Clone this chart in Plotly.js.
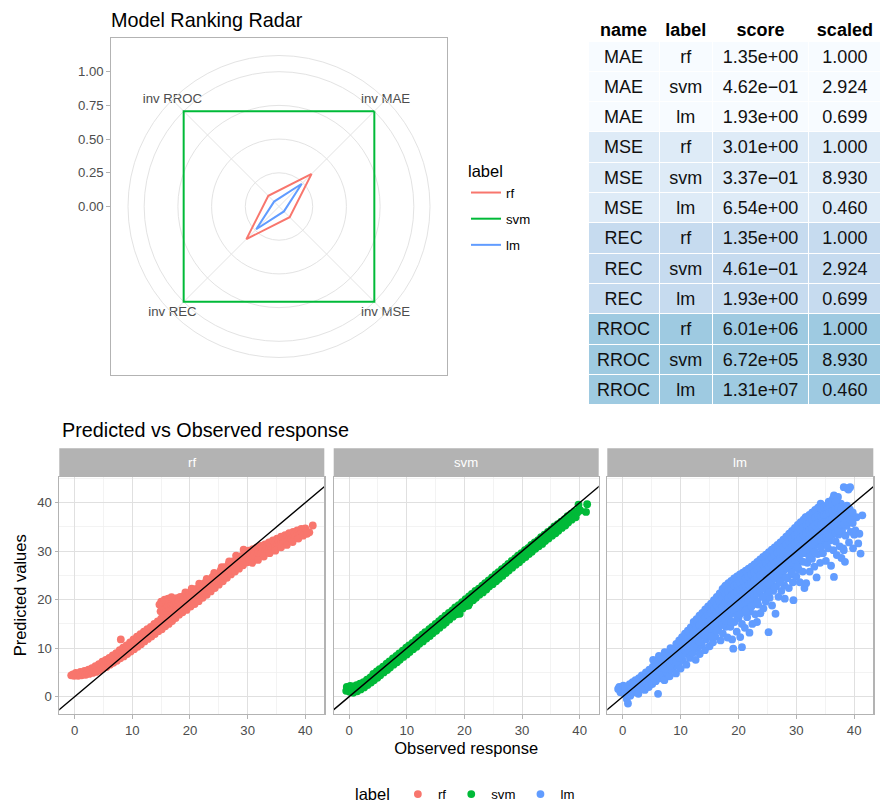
<!DOCTYPE html>
<html>
<head>
<meta charset="utf-8">
<script src="https://cdn.plot.ly/plotly-3.0.1.min.js"></script>
<style>html,body{margin:0;padding:0;background:#fff}#chart{width:881px;height:802px}</style>
</head>
<body>
<div id="chart"></div>
<script>
// ---------- data ----------
const modelLabels = ['rf', 'svm', 'lm'];
const modelColors = ['#F8766D', '#00BA38', '#619CFF'];

// radar (inverse scaled metrics)
const radarAxes = ['inv MAE', 'inv MSE', 'inv REC', 'inv RROC'];
const radarRf  = [0.342, 0.112, 0.342, 0.112];
const radarSvm = [1.000, 1.000, 1.000, 1.000];
const radarLm  = [0.239, 0.0515, 0.239, 0.0515];
const radarTicks = [0, 0.25, 0.5, 0.75, 1];
const radarTickText = ['0.00', '0.25', '0.50', '0.75', '1.00'];

// table
const tblHeader = ['name', 'label', 'score', 'scaled'];
const tblName   = ['MAE','MAE','MAE','MSE','MSE','MSE','REC','REC','REC','RROC','RROC','RROC'];
const tblLabel  = ['rf','svm','lm','rf','svm','lm','rf','svm','lm','rf','svm','lm'];
const tblScore  = ['1.35e+00','4.62e\u221201','1.93e+00','3.01e+00','3.37e\u221201','6.54e+00',
                   '1.35e+00','4.61e\u221201','1.93e+00','6.01e+06','6.72e+05','1.31e+07'];
const tblScaled = ['1.000','2.924','0.699','1.000','8.930','0.460','1.000','2.924','0.699','1.000','8.930','0.460'];
const metricFill = {MAE: '#F7FBFF', MSE: '#DEEBF7', REC: '#C6DBEF', RROC: '#9ECAE1'};

// predicted vs observed: [observed, predicted]
const rfPoints = [
[-0.6,4.4],[-0.3,4.6],[-0.1,4.3],[0.2,4.9],[0.3,4.5],[0.6,4.3],[0.8,4.7],[1.0,5.1],[1.2,4.4],[1.5,4.8],
[1.7,5.3],[1.9,4.5],[2.1,5.0],[2.4,5.6],[2.5,4.7],[2.8,5.2],[3.0,5.9],[3.1,4.9],[3.4,5.5],[3.6,6.3],
[3.7,5.1],[4.0,5.8],[4.2,6.7],[4.3,5.4],[4.6,6.2],[4.8,7.2],[4.9,5.8],[5.2,6.6],[5.4,7.6],[5.5,6.1],
[5.8,7.0],[6.0,8.0],[6.1,6.6],[6.4,7.5],[6.6,8.5],[6.7,7.0],[7.0,8.0],[7.2,9.0],[7.3,7.4],[7.6,8.5],
[7.8,9.6],[7.9,7.9],[8.0,11.8],[8.2,9.0],[8.4,10.1],[8.5,8.3],[8.8,9.5],[9.0,10.6],[9.1,8.8],[9.4,10.0],
[9.6,11.2],[9.7,9.3],[10.0,10.6],[10.2,11.8],[10.3,9.8],[10.6,11.1],[10.8,12.4],[10.9,10.3],[11.2,11.6],[11.4,12.9],
[11.5,10.8],[11.8,12.1],[12.0,13.4],[12.1,11.4],[12.4,12.7],[12.6,13.9],[12.7,11.9],[13.0,13.2],[13.2,14.4],[13.3,12.4],
[13.6,13.7],[13.8,15.0],[13.9,12.9],[14.2,14.2],[14.4,15.5],[14.5,13.5],[14.7,19.0],[14.8,14.7],[15.0,16.1],[15.1,13.9],
[15.3,19.4],[15.4,15.2],[15.6,16.7],[15.7,14.5],[15.9,19.6],[16.0,15.7],[16.2,17.2],[16.3,15.0],[16.5,19.8],[16.6,16.2],
[16.8,17.8],[16.9,15.6],[17.1,20.1],[17.2,16.8],[17.4,18.4],[17.5,16.2],[17.7,20.3],[17.8,17.4],[18.0,19.0],[18.1,16.9],
[18.3,20.6],[18.4,18.0],[18.6,19.5],[18.7,17.4],[19.0,20.8],[19.1,18.5],[19.3,20.0],[19.4,17.9],[19.7,21.3],[19.8,19.0],
[14.9,17.6],[15.2,18.2],[15.5,17.8],[15.8,18.4],[16.1,18.8],[16.4,18.4],[16.7,19.0],[17.0,19.2],[17.3,19.4],[17.6,19.6],
[17.9,19.9],[18.2,19.9],[18.5,20.3],[18.8,20.0],[19.2,21.5],[19.5,20.6],[19.9,21.0],[15.0,19.6],[15.6,20.0],[16.2,20.2],
[16.8,20.5],
[20.0,20.4],[20.1,18.6],[20.4,21.7],[20.5,19.5],[20.7,20.9],[20.8,19.1],[21.1,22.2],[21.2,20.1],[21.4,21.4],[21.5,19.7],
[21.8,22.8],[21.9,20.7],[22.1,22.0],[22.2,20.4],[22.5,23.4],[22.6,21.3],[22.8,22.7],[22.9,21.0],[23.2,24.0],[23.3,22.0],
[23.5,23.3],[23.6,21.7],[23.9,24.7],[24.0,22.7],[24.2,24.0],[24.3,22.4],[24.6,25.3],[24.7,23.4],[24.9,24.6],[25.0,23.1],
[25.3,26.0],[25.4,24.0],[25.6,25.3],[25.7,23.8],[26.0,26.7],[26.1,24.7],[26.3,25.9],[26.4,24.5],[26.7,27.3],[26.8,25.4],
[27.0,26.6],[27.1,25.2],[27.4,27.9],[27.5,26.1],[27.7,27.2],[27.8,25.8],[28.1,28.5],[28.2,26.7],[28.4,27.9],[28.5,26.4],
[28.8,29.0],[28.9,27.3],[29.1,28.5],[29.2,27.1],[29.5,29.6],[29.6,27.9],[29.8,29.0],[29.9,27.7],[30.2,30.1],[30.3,28.4],
[20.3,22.3],[21.6,23.3],[22.9,24.3],[24.2,25.5],[25.5,26.7],[26.8,27.9],[28.0,29.1],[29.3,30.3],
[30.5,29.5],[30.6,28.2],[30.9,30.4],[31.0,28.7],[31.2,29.7],[31.3,28.5],[31.6,30.8],[31.7,29.2],[31.9,30.1],[32.0,29.0],
[32.3,31.1],[32.4,29.7],[32.6,30.5],[32.7,29.4],[33.0,31.4],[33.1,30.1],[33.3,30.9],[33.4,29.8],[33.7,31.8],[33.8,30.5],
[34.0,31.3],[34.1,30.3],[34.4,32.2],[34.5,31.0],[34.7,31.7],[34.8,30.8],[35.1,32.6],[35.2,31.4],[35.4,32.1],[35.5,31.2],
[35.8,33.0],[35.9,31.9],[36.1,32.5],[36.2,31.7],[36.5,33.3],[36.6,32.3],[36.8,32.9],[36.9,32.1],[37.2,33.7],[37.3,32.8],
[37.5,33.3],[37.6,32.6],[37.9,34.0],[38.0,33.2],[38.2,33.7],[38.3,32.9],[38.6,34.3],[38.7,33.6],[38.9,34.1],[39.0,33.4],
[39.3,34.6],[39.4,34.0],[39.7,34.4],[40.0,34.7],[40.2,34.1],[40.7,33.9],[41.3,35.3],
[30.8,27.6],[31.8,28.2],[32.8,28.9],[33.8,29.6],[34.8,30.1],[35.8,30.8],[36.8,31.3],[37.8,31.9],[38.8,32.6],[39.6,33.2],
[40.3,33.6]
];

const svmPoints = [
[-0.5,1.2],[-0.4,2.0],[-0.2,1.6],[0.1,1.0],[0.2,2.2],[0.5,1.5],[0.7,0.8],[0.8,2.1],[1.0,1.4],[1.3,2.4],
[1.4,1.1],[1.6,1.8],[1.9,2.7],[2.0,1.5],[2.2,2.2],[2.5,3.0],[2.6,1.9],[2.8,2.6],[3.1,3.5],[3.2,2.4],
[3.4,3.0],[3.7,4.0],[3.8,2.9],[4.0,3.6],[4.2,4.7],[4.3,3.4],[4.6,4.1],[4.8,5.2],[4.9,3.9],[5.1,4.7],
[5.3,5.7],[5.4,4.4],[5.7,5.2],[5.9,6.2],[6.0,5.0],[6.2,5.8],[6.5,6.8],[6.6,5.5],[6.8,6.3],[7.0,7.3],
[7.1,6.0],[7.4,6.8],[7.6,7.9],[7.7,6.6],[7.9,7.3],[8.2,8.4],[8.3,7.1],[8.5,7.9],[8.7,8.9],[8.8,7.6],
[9.1,8.4],[9.3,9.5],[9.4,8.2],[9.6,8.9],[9.9,10.1],[10.0,8.7],[10.2,9.5],[10.4,10.6],[10.5,9.2],[10.8,10.0],
[11.0,11.1],[11.1,9.8],[11.3,10.6],[11.6,11.7],[11.7,10.3],[11.9,11.1],[12.1,12.2],[12.2,10.9],[12.5,11.6],[12.7,12.8],
[12.8,11.4],[13.0,12.2],[13.2,13.3],[13.4,12.0],[13.6,12.7],[13.9,13.9],[14.0,12.5],[14.2,13.3],[14.4,14.4],[14.5,13.1],
[14.8,13.8],[15.0,15.0],[15.1,13.6],[15.3,14.4],[15.6,15.6],[15.7,14.2],[15.9,14.9],[16.1,16.1],[16.3,14.8],[16.5,15.5],
[16.7,16.7],[16.8,15.3],[17.1,16.1],[17.3,17.3],[17.4,15.9],[17.6,16.6],[17.9,17.8],[18.0,16.5],[18.2,17.2],[18.4,18.4],
[18.6,17.0],[18.8,17.8],[19.0,18.9],[19.2,17.1],[19.4,18.3],[19.6,19.5],[19.7,18.2],[20.0,18.9],[20.2,20.1],[20.3,18.7],
[20.7,18.8],[20.5,19.5],[20.8,20.7],[20.9,19.3],[21.1,20.0],[21.3,21.2],[21.5,19.9],[21.7,20.6],[21.9,21.8],[22.0,20.4],
[22.3,21.2],[22.5,22.3],[22.6,21.0],[22.8,21.7],[23.1,22.9],[23.2,21.5],[23.4,22.3],[23.6,23.4],[23.8,22.1],[24.0,22.9],
[24.2,24.0],[24.3,22.7],[24.6,23.4],[24.8,24.6],[24.9,23.2],[25.1,24.0],[25.4,25.2],[25.5,23.8],[25.7,24.6],[25.9,25.7],
[26.0,24.3],[26.3,25.1],[26.5,26.3],[26.6,24.9],[26.8,25.7],[27.1,26.8],[27.2,25.5],[27.4,26.3],[27.6,27.4],[27.7,26.0],
[28.0,26.8],[28.2,28.0],[28.3,26.6],[28.5,27.4],[28.8,28.5],[28.9,27.2],[29.1,27.9],[29.3,29.1],[29.5,27.7],[29.7,28.5],
[29.9,29.6],[30.0,28.3],[30.3,29.1],[30.5,30.2],[30.6,28.8],[30.8,29.6],[31.1,30.7],[31.2,29.4],[31.4,30.2],[31.6,31.3],
[31.7,29.9],[32.0,30.7],[32.2,31.8],[32.3,30.5],[32.5,31.3],[32.8,32.3],[32.9,31.0],[33.1,31.8],[33.3,32.9],[33.5,31.5],
[33.7,32.4],[33.9,33.4],[34.0,32.1],[34.3,32.9],[34.5,34.0],[34.6,32.6],[34.8,33.4],[35.1,34.5],[35.2,33.2],[35.4,34.0],
[35.6,35.1],[35.8,33.7],[36.0,34.5],[36.2,35.6],[36.3,34.2],[36.6,35.0],[36.8,36.1],[36.9,34.8],[37.1,35.6],[37.4,36.6],
[37.5,35.3],[37.7,36.1],[37.9,37.2],[38.0,35.9],[38.3,36.7],[38.5,37.7],[38.6,36.5],[38.9,37.3],[39.1,38.2],[39.3,37.0],
[39.6,38.0],[39.8,39.6],[40.1,38.4],[41.1,38.1],[41.3,39.7]
];

const lmPoints = [
[-0.8,1.6],[-0.6,2.0],[-0.4,0.9],[-0.1,1.5],[0.1,2.3],[0.3,0.6],[0.5,1.8],[0.7,-0.5],[0.9,-1.4],[1.0,1.0],
[1.2,2.6],[1.3,0.2],[1.5,1.8],[1.7,3.0],[1.8,0.9],[2.0,2.2],[2.2,3.4],[2.3,1.2],[2.5,2.6],[2.7,0.6],
[2.8,3.8],[3.0,1.9],[3.1,3.0],[3.3,4.4],[3.5,2.2],[3.6,3.4],[3.8,1.4],[4.0,5.0],[4.1,3.0],[4.3,4.1],
[4.5,2.0],[4.6,5.6],[4.8,3.6],[4.9,4.8],[5.1,2.6],[5.2,6.2],[5.4,4.2],[5.5,5.4],[5.7,3.2],[5.8,6.8],
[6.0,4.8],[6.1,0.6],[6.2,6.0],[6.4,3.8],[6.5,7.4],[6.6,5.4],[6.8,6.6],[6.9,4.4],[7.1,8.0],[7.2,3.4],
[7.3,6.0],[7.5,7.2],[7.6,5.0],[7.8,8.6],[7.9,6.6],[8.1,4.2],[8.2,7.8],[8.3,5.6],[8.5,9.2],[8.6,7.2],
[8.8,8.4],[8.9,6.2],[9.1,9.8],[9.2,4.8],[9.3,7.8],[9.5,9.0],[9.6,6.8],[9.8,10.6],[9.9,8.4],[10.0,5.8],
[10.2,9.6],[10.3,11.4],[10.4,7.4],[10.6,12.2],[10.7,8.8],[10.8,10.4],[11.0,6.6],[11.1,12.8],[11.2,11.2],[11.3,9.4],
[11.5,13.4],[11.6,8.0],[11.7,10.4],[11.9,12.0],[12.0,14.0],[12.1,9.0],[12.3,11.0],[12.4,15.0],[12.5,12.8],[12.6,7.6],
[12.8,13.8],[12.9,10.0],[13.0,11.8],[13.2,15.6],[13.3,8.8],[13.4,14.4],[13.5,12.6],[13.7,10.6],[13.8,16.2],[14.0,13.4],
[14.1,15.2],[14.2,9.6],[14.4,11.8],[14.5,17.0],[14.6,14.2],[14.8,12.6],[14.9,15.8],[15.0,10.4],
[15.2,17.8],[15.3,13.4],[15.4,16.4],[15.6,11.2],[15.7,14.8],[15.8,18.6],[16.0,12.4],[16.1,17.2],[16.2,15.6],[16.4,19.4],
[16.5,13.8],[16.6,16.6],[16.8,20.2],[16.9,11.6],[17.0,18.0],[17.1,15.0],[17.2,21.6],[17.3,13.0],[17.4,19.4],[17.5,16.4],
[17.6,22.6],[17.7,20.6],[17.8,14.4],[17.9,17.8],[18.0,21.8],[18.1,12.2],[18.2,19.0],[18.3,23.0],[18.4,16.0],[18.5,20.4],
[18.6,14.4],[18.7,22.2],[18.8,17.6],[18.9,11.8],[19.0,23.6],[19.1,9.9],[19.2,19.6],[19.3,15.4],[19.4,21.4],[19.5,24.0],
[19.6,17.6],[19.7,13.4],[19.8,20.4],[19.9,22.6],[20.0,16.2],
[20.1,24.6],[20.2,18.8],[20.3,12.3],[20.4,21.6],[20.5,23.4],[20.6,10.2],[20.6,15.0],[20.7,17.4],[20.8,20.0],[20.9,25.0],
[21.0,22.6],[21.1,14.2],[21.2,18.6],[21.3,24.0],[21.4,21.0],[21.5,16.4],[21.6,25.6],[21.7,19.6],[21.8,22.8],[21.9,13.2],
[22.0,17.6],[22.1,24.6],[22.2,21.2],[22.3,26.2],[22.4,15.0],[22.5,19.0],[22.6,23.2],[22.7,25.4],[22.8,20.4],[22.9,17.0],
[23.0,26.8],[23.1,22.0],[23.2,15.4],[23.3,24.2],[23.4,19.0],[23.5,27.2],[23.6,21.4],[23.7,25.6],[23.8,17.2],[23.9,23.2],
[24.0,27.8],[24.1,20.6],[24.2,24.8],[24.3,18.2],[24.4,22.6],[24.5,28.4],[24.6,26.0],[24.7,19.6],[24.8,23.8],[24.9,27.2],
[25.0,21.6],
[25.1,29.0],[25.2,13.3],[25.3,25.0],[25.4,20.4],[25.5,27.6],[25.6,23.0],[25.7,29.6],[25.8,18.8],[25.9,26.2],[26.0,21.8],
[26.1,28.4],[26.2,24.4],[26.3,30.0],[26.4,17.1],[26.5,22.8],[26.6,27.2],[26.7,25.4],[26.8,30.6],[26.9,20.6],[27.0,28.8],
[27.1,23.8],[27.2,26.4],[27.3,31.0],[27.4,21.8],[27.5,29.4],[27.6,25.0],[27.7,27.8],[27.8,31.6],[27.9,23.0],[28.0,20.2],
[28.1,29.6],[28.2,26.4],[28.3,32.2],[28.4,24.4],[28.5,28.2],[28.6,30.8],[28.7,22.4],[28.8,33.0],[28.9,26.6],[29.0,29.4],
[29.1,25.2],[29.2,33.8],[29.3,31.6],[29.4,23.6],[29.5,19.9],[29.6,28.2],[29.7,34.4],[29.8,26.8],[29.9,30.8],[30.0,24.8],
[30.1,32.8],[30.2,29.0],[30.3,35.0],[30.4,26.2],[30.5,31.6],[30.6,23.6],[30.7,33.8],[30.8,28.0],[30.9,30.4],[31.0,35.6],
[31.1,25.8],[31.2,32.6],[31.3,29.6],[31.4,22.4],[31.5,34.6],[31.6,37.0],[31.7,23.4],[31.8,31.0],[31.9,27.6],[32.0,35.8],
[32.1,33.2],[32.2,29.8],[32.3,25.8],[32.4,36.8],[32.5,31.8],[32.6,34.4],[32.7,28.4],[32.8,37.6],[32.9,33.0],[33.0,30.6],
[33.1,26.8],[33.2,35.4],[33.3,38.4],[33.4,32.0],[33.5,24.6],[33.6,36.6],[33.7,29.4],[33.8,34.2],[33.9,38.8],[34.0,31.6],
[34.1,27.6],[34.2,39.8],[34.3,35.6],[34.4,33.0],[34.5,37.6],[34.6,29.6],[34.7,38.1],[34.8,34.6],[34.9,31.8],[35.0,36.6],
[35.1,28.0],[35.2,39.4],[35.3,33.6],[35.4,37.8],[35.5,30.6],[35.6,40.2],[35.7,35.4],[35.8,32.2],[35.9,38.6],[36.0,27.0],
[36.1,36.6],[36.2,33.8],[36.3,40.8],[36.4,30.2],[36.5,41.5],[36.5,24.7],[36.6,37.4],[36.7,35.0],[36.8,32.0],[36.9,39.6],
[37.0,29.2],[37.1,36.2],[37.2,41.2],[37.3,33.4],[37.4,38.4],[37.5,31.0],[37.6,35.6],[37.7,39.8],[37.8,28.6],[37.9,34.2],
[38.0,37.0],[38.1,30.6],[38.2,43.2],[38.2,30.2],[38.3,36.2],[38.4,27.8],[38.5,33.2],[38.6,38.4],[38.7,35.2],[38.8,43.0],
[39.0,42.7],[39.1,31.8],[39.2,37.4],[39.3,43.2],[39.4,34.0],[39.6,36.2],[39.8,30.6],[40.0,33.4],[40.2,34.3],[40.4,37.0],
[40.7,31.6],[40.9,33.6],[41.1,29.5],[41.4,37.4],
// dense core of the cloud
[5.25,7.6],[5.25,5.9],[5.25,4.0],[5.75,6.3],[5.75,4.6],[6.25,8.4],[6.25,6.9],[6.25,5.2],[6.75,7.8],[6.75,5.9],
[7.25,9.2],[7.25,7.5],[7.25,5.8],[7.75,8.4],[7.75,6.6],[8.25,10.0],[8.25,8.3],[8.25,6.5],[8.75,9.3],[8.75,7.4],
[9.25,10.9],[9.25,9.0],[9.25,7.2],[9.75,11.6],[9.75,9.5],[9.75,8.0],[10.25,12.3],[10.25,10.5],[10.25,8.6],
[10.75,13.0],[10.75,11.3],[10.75,9.6],[11.25,13.6],[11.25,12.0],[11.25,10.0],[11.75,14.3],[11.75,12.6],[11.75,10.9],
[12.25,15.4],[12.25,13.6],[12.25,11.8],[12.25,10.3],[12.75,16.0],[12.75,14.4],[12.75,12.4],
[13.25,16.7],[13.25,14.8],[13.25,13.2],[13.25,11.4],[13.75,17.3],[13.75,15.6],[13.75,13.9],
[14.25,18.0],[14.25,16.3],[14.25,14.6],[14.25,12.8],[14.75,18.6],[14.75,16.9],[14.75,15.3],[14.75,13.4],
[15.25,19.2],[15.25,17.4],[15.25,15.8],[15.25,14.0],[15.25,12.4],[15.75,19.9],[15.75,18.1],[15.75,16.6],[15.75,14.7],
[16.25,20.6],[16.25,18.8],[16.25,17.2],[16.25,15.3],[16.25,13.6],[16.75,21.3],[16.75,19.6],[16.75,17.9],[16.75,16.0],
[17.25,22.2],[17.25,20.4],[17.25,18.6],[17.25,16.8],[17.25,14.8],[17.75,22.9],[17.75,21.2],[17.75,19.4],[17.75,17.6],[17.75,15.6],
[18.25,23.4],[18.25,21.8],[18.25,20.2],[18.25,18.4],[18.25,16.4],[18.75,23.9],[18.75,22.4],[18.75,20.8],[18.75,19.0],[18.75,17.2],[18.75,15.4],
[19.25,24.4],[19.25,22.8],[19.25,21.2],[19.25,19.4],[19.25,17.8],[19.75,24.8],[19.75,23.2],[19.75,21.6],[19.75,20.0],[19.75,18.4],[19.75,16.6],
[20.25,25.2],[20.25,23.6],[20.25,22.0],[20.25,20.4],[20.25,18.8],[20.25,17.0],[20.75,25.6],[20.75,24.0],[20.75,22.4],[20.75,20.8],[20.75,19.2],
[21.25,26.0],[21.25,24.4],[21.25,22.8],[21.25,21.2],[21.25,19.6],[21.25,17.8],[21.75,26.4],[21.75,24.8],[21.75,23.2],[21.75,21.6],[21.75,20.0],
[22.25,26.8],[22.25,25.2],[22.25,23.6],[22.25,22.0],[22.25,20.4],[22.25,18.6],[22.75,27.3],[22.75,25.7],[22.75,24.1],[22.75,22.5],[22.75,20.8],
[23.25,27.8],[23.25,26.2],[23.25,24.6],[23.25,23.0],[23.25,21.4],[23.25,19.6],[23.75,28.3],[23.75,26.7],[23.75,25.1],[23.75,23.5],[23.75,21.8],
[24.25,28.8],[24.25,27.2],[24.25,25.6],[24.25,24.0],[24.25,22.3],[24.25,20.6],[24.75,29.3],[24.75,27.7],[24.75,26.1],[24.75,24.5],[24.75,22.8],
[25.25,29.8],[25.25,28.2],[25.25,26.6],[25.25,25.0],[25.25,23.4],[25.25,21.6],[25.75,30.3],[25.75,28.7],[25.75,27.1],[25.75,25.5],[25.75,23.8],
[26.25,30.8],[26.25,29.2],[26.25,27.6],[26.25,26.0],[26.25,24.4],[26.25,22.6],[26.75,31.3],[26.75,29.7],[26.75,28.1],[26.75,26.5],[26.75,24.8],
[27.25,31.8],[27.25,30.2],[27.25,28.6],[27.25,27.0],[27.25,25.4],[27.25,23.6],[27.75,32.4],[27.75,30.8],[27.75,29.2],[27.75,27.6],[27.75,25.9],
[28.25,33.0],[28.25,31.4],[28.25,29.8],[28.25,28.2],[28.25,26.5],[28.25,24.6],[28.75,33.6],[28.75,32.0],[28.75,30.4],[28.75,28.8],[28.75,27.0],
[29.25,34.2],[29.25,32.6],[29.25,31.0],[29.25,29.4],[29.25,27.6],[29.25,25.6],[29.75,34.8],[29.75,33.2],[29.75,31.6],[29.75,29.9],[29.75,28.2],
[30.25,35.4],[30.25,33.8],[30.25,32.2],[30.25,30.5],[30.25,28.8],[30.25,26.8],[30.75,36.0],[30.75,34.4],[30.75,32.8],[30.75,31.1],[30.75,29.4],
[31.25,36.5],[31.25,34.9],[31.25,33.3],[31.25,31.6],[31.25,29.9],[31.25,27.8],[31.75,37.0],[31.75,35.4],[31.75,33.8],[31.75,32.1],[31.75,30.4],
[32.25,37.5],[32.25,35.9],[32.25,34.3],[32.25,32.6],[32.25,30.9],[32.25,28.8],[32.75,38.0],[32.75,36.4],[32.75,34.8],[32.75,33.1],[32.75,31.4],
[33.25,38.5],[33.25,36.9],[33.25,35.3],[33.25,33.6],[33.25,31.9],[33.25,29.8],[33.75,39.0],[33.75,37.4],[33.75,35.8],[33.75,34.1],[33.75,32.4],
[34.25,38.8],[34.25,37.2],[34.25,35.6],[34.25,34.0],[34.25,32.3],[34.25,30.8],[34.75,39.1],[34.75,37.5],[34.75,35.9],[34.75,34.3],[34.75,32.7],
[35.25,39.3],[35.25,37.7],[35.25,36.1],[35.25,34.5],[35.25,32.9],[35.25,31.3],[35.75,39.6],[35.75,38.0],[35.75,36.4],[35.75,34.8],[35.75,33.2],
[36.25,39.9],[36.25,38.3],[36.25,36.7],[36.25,35.1],[36.25,33.4],[36.75,40.2],[36.75,38.6],[36.75,37.0],[36.75,35.4],[36.75,33.8],
[37.25,39.0],[37.25,37.4],[37.25,35.8],[37.25,34.2],[37.75,38.6],[37.75,37.0],[37.75,35.4],[38.25,39.0],[38.25,37.4],[38.25,35.6],
[38.75,39.4],[38.75,37.6],[38.75,36.0],[39.25,38.6],[39.25,36.6],[39.75,38.0],[39.75,35.8]
];

const identityLine = [-5, 50];   // y = x reference line
const facetTicks = [0, 10, 20, 30, 40];

// ---------- build ----------
const FONT = 'Liberation Sans, Arial, Helvetica, sans-serif';
const GRID = '#E0E0E0';
const BORDER = '#B3B3B3';
const TICKTXT = '#4D4D4D';

const radarVals = [radarRf, radarSvm, radarLm];
const scatterPts = [rfPoints, svmPoints, lmPoints];
const xa = ['x', 'x2', 'x3'];
const ya = ['y', 'y2', 'y3'];

const traces = [];

// radar polygons
radarVals.forEach((vals, i) => {
  traces.push({
    type: 'scatterpolar', subplot: 'polar', mode: 'lines',
    r: vals.concat([vals[0]]), theta: radarAxes.concat([radarAxes[0]]),
    line: {color: modelColors[i], width: 2},
    name: modelLabels[i], legend: 'legend', legendgroup: 'radar_' + modelLabels[i],
    hoverinfo: 'skip'
  });
});
// radar axis names, centred on the outer ring
traces.push({
  type: 'scatterpolar', subplot: 'polar', mode: 'text',
  r: radarAxes.map(() => 1.118), theta: radarAxes, text: radarAxes,
  textposition: 'middle center', cliponaxis: false,
  textfont: {family: FONT, size: 13.2, color: TICKTXT},
  showlegend: false, hoverinfo: 'skip'
});

// frame axes for radar (carry the 0..1 radius scale)
traces.push({type: 'scatter', x: [], y: [], xaxis: 'x4', yaxis: 'y4', showlegend: false, hoverinfo: 'skip'});

// facet scatter
scatterPts.forEach((pts, i) => {
  traces.push({
    type: 'scatter', mode: 'markers',
    x: pts.map(p => p[0]), y: pts.map(p => p[1]),
    xaxis: xa[i], yaxis: ya[i],
    marker: {color: modelColors[i], size: 7.8, line: {width: 0}},
    name: modelLabels[i], legend: 'legend2', showlegend: true,
    hoverinfo: 'x+y'
  });
});
scatterPts.forEach((pts, i) => {
  traces.push({
    type: 'scatter', mode: 'lines', x: identityLine, y: identityLine,
    xaxis: xa[i], yaxis: ya[i], line: {color: '#000000', width: 1.4},
    showlegend: false, hoverinfo: 'skip'
  });
});

// table
const rowFill = tblName.map(n => metricFill[n]);
traces.push({
  type: 'table',
  domain: {x: [588/881, 1], y: [1 - 405/802, 1 - 14/802]},
  columnwidth: [71, 53, 96, 72],
  header: {
    values: tblHeader, align: 'center', height: 27,
    fill: {color: '#FFFFFF'}, line: {color: '#FFFFFF', width: 1},
    font: {family: FONT, size: 18, color: '#000000', weight: 'bold'}
  },
  cells: {
    values: [tblName, tblLabel, tblScore, tblScaled], align: 'center', height: 30.3,
    fill: {color: [rowFill, rowFill, rowFill, rowFill]},
    line: {color: '#FFFFFF', width: 1},
    font: {family: FONT, size: 18, color: '#111111'}
  }
});

function facetX(dom, showTitle) {
  const ax = {
    domain: dom, range: [-2.67, 43.3], tickvals: facetTicks, ticks: 'outside', ticklen: 3.5,
    tickcolor: BORDER, tickwidth: 1, tickfont: {family: FONT, size: 13.2, color: TICKTXT},
    showline: true, mirror: true, linecolor: BORDER, linewidth: 1.2,
    showgrid: true, gridcolor: GRID, gridwidth: 1, zeroline: false,
    minor: {dtick: 5, tick0: 0, showgrid: true, gridcolor: '#EEEEEE', gridwidth: 0.7}
  };
  if (showTitle) ax.title = {text: 'Observed response', font: {family: FONT, size: 16.5, color: '#000000'}, standoff: 6};
  return ax;
}
function facetY(anchor, showLabels) {
  const ax = {
    domain: [1 - 714/802, 1 - 476.7/802], anchor: anchor, range: [-3.57, 45.36],
    tickvals: facetTicks, showticklabels: showLabels, ticks: showLabels ? 'outside' : '',
    ticklen: 3.5, tickcolor: BORDER, tickwidth: 1, tickfont: {family: FONT, size: 13.2, color: TICKTXT},
    showline: true, mirror: true, linecolor: BORDER, linewidth: 1.2,
    showgrid: true, gridcolor: GRID, gridwidth: 1, zeroline: false,
    minor: {dtick: 5, tick0: 0, showgrid: true, gridcolor: '#EEEEEE', gridwidth: 0.7}
  };
  if (showLabels) ax.title = {text: 'Predicted values', font: {family: FONT, size: 16.5, color: '#000000'}, standoff: 6};
  return ax;
}

const panelX = [[59.3/881, 324.3/881], [333.7/881, 598.7/881], [607.3/881, 873.3/881]];
const xs = facetX(panelX[0], false); xs.anchor = 'y';
const xs2 = facetX(panelX[1], true); xs2.anchor = 'y2';
const xs3 = facetX(panelX[2], false); xs3.anchor = 'y3';

const stripY0 = 1 - 476.7/802, stripY1 = 1 - 448.3/802;
const shapes = panelX.map(d => ({
  type: 'rect', xref: 'paper', yref: 'paper', x0: d[0], x1: d[1], y0: stripY0, y1: stripY1,
  fillcolor: BORDER, line: {width: 0}, layer: 'below'
}));
const annotations = panelX.map((d, i) => ({
  xref: 'paper', yref: 'paper', x: (d[0] + d[1]) / 2, y: (stripY0 + stripY1) / 2,
  text: modelLabels[i], showarrow: false, xanchor: 'center', yanchor: 'middle',
  font: {family: FONT, size: 13.2, color: '#FFFFFF'}
}));
annotations.push({
  xref: 'paper', yref: 'paper', x: 60/881, y: 1 - 430/802, xanchor: 'left', yanchor: 'middle',
  text: 'Predicted vs Observed response', showarrow: false,
  font: {family: FONT, size: 19.8, color: '#000000'}
});

const layout = {
  width: 881, height: 802,
  margin: {l: 0, r: 0, t: 0, b: 0, autoexpand: false},
  paper_bgcolor: '#FFFFFF', plot_bgcolor: '#FFFFFF',
  font: {family: FONT, color: '#000000'},
  title: {
    text: 'Model Ranking Radar', x: 111/881, xanchor: 'left', xref: 'paper',
    y: 1 - 20/802, yanchor: 'middle', yref: 'paper',
    font: {family: FONT, size: 19.8, color: '#000000'}
  },
  polar: {
    domain: {x: [128/881, 430/881], y: [1 - 357.5/802, 1 - 55.5/802]},
    bgcolor: 'rgba(0,0,0,0)',
    radialaxis: {
      range: [0, 1.12], tickvals: [0.25, 0.5, 0.75, 1], showticklabels: false, ticks: '',
      showline: false, gridcolor: '#E3E3E3', gridwidth: 1
    },
    angularaxis: {
      type: 'category', categoryarray: radarAxes, direction: 'clockwise', rotation: 45,
      ticks: '', showticklabels: false, showline: true, linecolor: '#E3E3E3', linewidth: 1,
      gridcolor: '#E3E3E3', gridwidth: 1
    }
  },
  xaxis4: {
    domain: [111/881, 447/881], anchor: 'y4', range: [-1.25, 1.25],
    showline: true, mirror: true, linecolor: BORDER, linewidth: 1.2,
    showgrid: false, zeroline: false, showticklabels: false, ticks: ''
  },
  yaxis4: {
    domain: [1 - 375/802, 1 - 38/802], anchor: 'x4', range: [-1.25, 1.25],
    tickvals: radarTicks, ticktext: radarTickText, ticks: 'outside', ticklen: 3.5,
    tickcolor: BORDER, tickfont: {family: FONT, size: 13.2, color: TICKTXT},
    showline: true, mirror: true, linecolor: BORDER, linewidth: 1.2,
    showgrid: false, zeroline: false
  },
  xaxis: xs, xaxis2: xs2, xaxis3: xs3,
  yaxis: facetY('x', true), yaxis2: facetY('x2', false), yaxis3: facetY('x3', false),
  legend: {
    x: 466/881, xanchor: 'left', y: 1 - 156/802, yanchor: 'top',
    bgcolor: 'rgba(0,0,0,0)', borderwidth: 0, tracegroupgap: 6,
    title: {text: 'label', font: {family: FONT, size: 16.5, color: '#000000'}},
    font: {family: FONT, size: 13.2, color: '#000000'}
  },
  legend2: {
    orientation: 'h', x: 353/881, xanchor: 'left', y: 1 - 795/802, yanchor: 'middle',
    bgcolor: 'rgba(0,0,0,0)', borderwidth: 0,
    title: {text: 'label', side: 'left', font: {family: FONT, size: 16.5, color: '#000000'}},
    font: {family: FONT, size: 13.2, color: '#000000'}
  },
  shapes: shapes,
  annotations: annotations,
  showlegend: true
};

Plotly.newPlot('chart', traces, layout, {displayModeBar: false, staticPlot: true});
</script>
</body>
</html>
